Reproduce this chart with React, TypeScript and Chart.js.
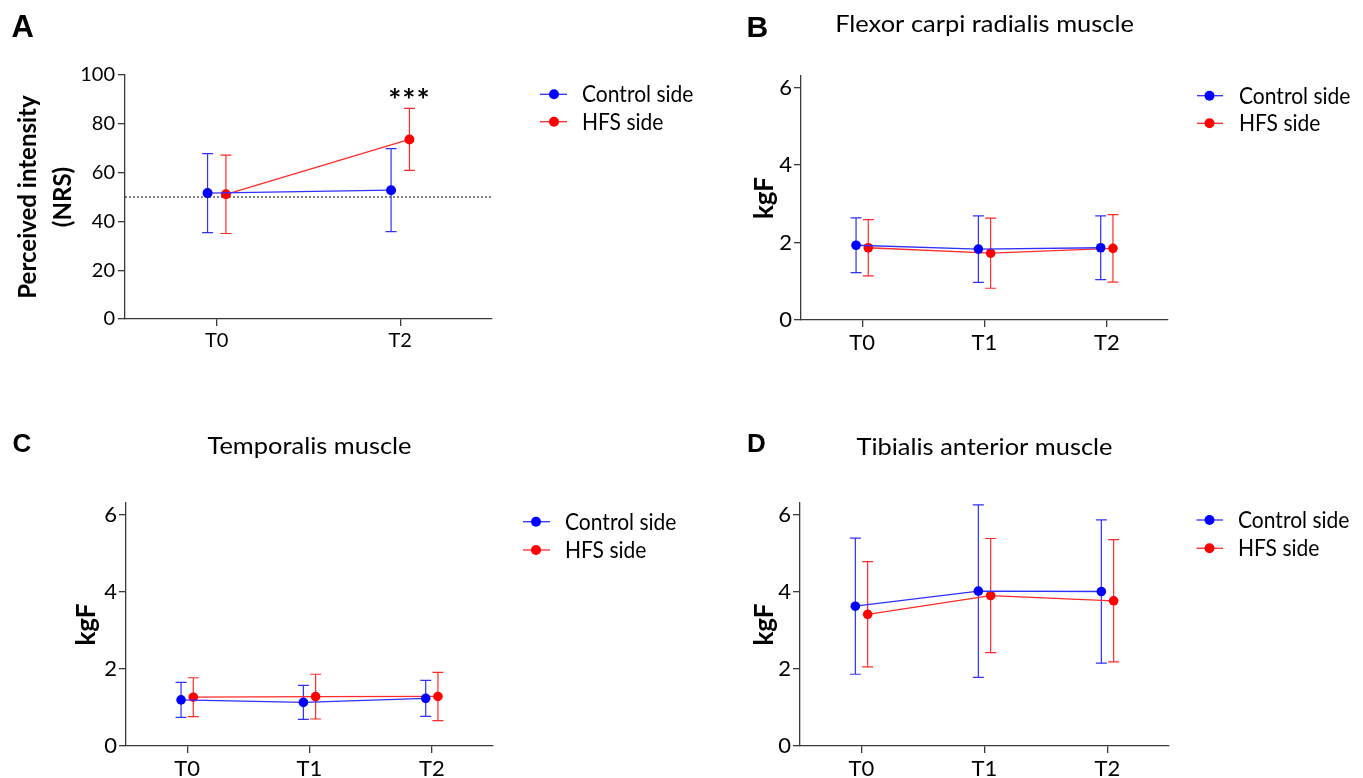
import React, { useEffect, useRef } from 'react';
import { Chart, registerables } from 'chart.js';

Chart.register(...registerables);

// ---------------- data ----------------
const seriesNames = ['Control side', 'HFS side'];

// Panel A: perceived intensity (NRS)
const nrsTimes = ['T0', 'T2'];
const nrsControlMean = [51.6, 52.8];
const nrsControlSD = [16.2, 17.0];
const nrsHfsMean = [51.1, 73.6];
const nrsHfsSD = [16.05, 12.7];
const nrsReferenceLine = 50;
const nrsSignificance = ['', '***'];
const nrsTicks = [0, 20, 40, 60, 80, 100];

// Panel B: flexor carpi radialis muscle (kgF)
const forceTimes = ['T0', 'T1', 'T2'];
const fcrControlMean = [1.93, 1.83, 1.865];
const fcrControlSD = [0.705, 0.86, 0.825];
const fcrHfsMean = [1.865, 1.725, 1.85];
const fcrHfsSD = [0.725, 0.905, 0.87];

// Panel C: temporalis muscle (kgF)
const tempControlMean = [1.195, 1.13, 1.235];
const tempControlSD = [0.455, 0.44, 0.465];
const tempHfsMean = [1.265, 1.28, 1.285];
const tempHfsSD = [0.505, 0.58, 0.625];

// Panel D: tibialis anterior muscle (kgF)
const tibControlMean = [3.625, 4.015, 4.005];
const tibControlSD = [1.765, 2.235, 1.855];
const tibHfsMean = [3.415, 3.9, 3.765];
const tibHfsSD = [1.365, 1.48, 1.585];

const forceTicks = [0, 2, 4, 6];

// ---------------- styles ----------------
const SANS = 'Lato, "Open Sans", "DejaVu Sans", sans-serif';
const LETTER_FONT = '"Liberation Sans", Arial, sans-serif';
const BLUE = '#0000ff';
const BLUE_LINE = '#3030ff';
const RED = '#ff0000';
const RED_LINE = '#ff2b2b';
const AXIS = '#3a3a3a';
const TEXT = '#000000';
const SHIFT = 0.05;
const TITLE_STRETCH = 1.06;
const LEGEND_STRETCH = 0.935;

type Panel = {
  key: string;
  letter: string;
  letterSize: number;
  letterPos: [number, number];
  title?: string;
  titleBaseline?: number;
  categories: string[];
  controlMean: number[];
  controlSD: number[];
  hfsMean: number[];
  hfsSD: number[];
  yMax: number;
  yTicks: number[];
  yTitle: string | string[];
  yTitleSize: number;
  yTitleLineHeight: number;
  yTitleCenter: number;
  reference?: number;
  significance?: string[];
  frame: [number, number, number, number];
  area: [number, number, number, number];
  yAxisW: number;
  tickSize: number;
  tickPadX: number;
  tickPadY: number;
  pointR: number;
  legend: { x1: number; x2: number; dot: number; rows: [number, number]; textX: number; size: number };
};

const panels: Panel[] = [
  {
    key: 'A', letter: 'A', letterSize: 31, letterPos: [11.5, 36.5],
    categories: nrsTimes,
    controlMean: nrsControlMean, controlSD: nrsControlSD,
    hfsMean: nrsHfsMean, hfsSD: nrsHfsSD,
    yMax: 100, yTicks: nrsTicks,
    yTitle: ['Perceived intensity', '(NRS)'], yTitleSize: 24, yTitleLineHeight: 35, yTitleCenter: 28.3,
    reference: nrsReferenceLine, significance: nrsSignificance,
    frame: [0, 0, 720, 389], area: [125, 75, 492, 319], yAxisW: 115,
    tickSize: 20, tickPadX: 3, tickPadY: 3, pointR: 5,
    legend: { x1: 540, x2: 567, dot: 554, rows: [94.3, 121.7], textX: 582, size: 22.5 },
  },
  {
    key: 'B', letter: 'B', letterSize: 30, letterPos: [746.5, 36.5],
    title: 'Flexor carpi radialis muscle', titleBaseline: 31.5,
    categories: forceTimes,
    controlMean: fcrControlMean, controlSD: fcrControlSD,
    hfsMean: fcrHfsMean, hfsSD: fcrHfsSD,
    yMax: 6.3, yTicks: forceTicks,
    yTitle: 'kgF', yTitleSize: 26, yTitleLineHeight: 30, yTitleCenter: 765,
    frame: [681, 0, 682, 389], area: [801, 76, 1168, 320], yAxisW: 60,
    tickSize: 22, tickPadX: 3, tickPadY: 2, pointR: 4.8,
    legend: { x1: 1197, x2: 1223, dot: 1209.5, rows: [95.7, 123.3], textX: 1239, size: 22.5 },
  },
  {
    key: 'C', letter: 'C', letterSize: 26, letterPos: [12.5, 451.7],
    title: 'Temporalis muscle', titleBaseline: 454.3,
    categories: forceTimes,
    controlMean: tempControlMean, controlSD: tempControlSD,
    hfsMean: tempHfsMean, hfsSD: tempHfsSD,
    yMax: 6.3, yTicks: forceTicks,
    yTitle: 'kgF', yTitleSize: 26, yTitleLineHeight: 30, yTitleCenter: 86.7,
    frame: [0, 389, 720, 389], area: [126, 503, 493, 746], yAxisW: 60,
    tickSize: 22, tickPadX: 3, tickPadY: 2, pointR: 4.8,
    legend: { x1: 523, x2: 550, dot: 536, rows: [521.7, 550], textX: 565, size: 22.5 },
  },
  {
    key: 'D', letter: 'D', letterSize: 26, letterPos: [747, 452],
    title: 'Tibialis anterior muscle', titleBaseline: 455,
    categories: forceTimes,
    controlMean: tibControlMean, controlSD: tibControlSD,
    hfsMean: tibHfsMean, hfsSD: tibHfsSD,
    yMax: 6.3, yTicks: forceTicks,
    yTitle: 'kgF', yTitleSize: 26, yTitleLineHeight: 30, yTitleCenter: 765,
    frame: [681, 389, 682, 389], area: [800, 503, 1169, 746], yAxisW: 60,
    tickSize: 22, tickPadX: 3, tickPadY: 2, pointR: 4.8,
    legend: { x1: 1196.5, x2: 1223, dot: 1209.5, rows: [520, 548.3], textX: 1238, size: 22.5 },
  },
];

// ---------------- plugin ----------------
function stretchedText(ctx: CanvasRenderingContext2D, text: string, x: number, y: number, sx: number) {
  ctx.save();
  ctx.translate(x, y);
  ctx.scale(sx, 1);
  ctx.fillText(text, 0, 0);
  ctx.restore();
}

const decorPlugin = {
  id: 'decor',
  beforeDatasetsDraw(chart: any) {
    const ctx = chart.ctx;
    const xs = chart.scales.x;
    const ys = chart.scales.y;
    chart.data.datasets.forEach((ds: any) => {
      if (!ds.errors) return;
      ctx.save();
      ctx.strokeStyle = ds.borderColor;
      ctx.lineWidth = 1.2;
      ds.data.forEach((p: any, i: number) => {
        const sd = ds.errors[i];
        const x = xs.getPixelForValue(p.x);
        const yt = ys.getPixelForValue(p.y + sd);
        const yb = ys.getPixelForValue(p.y - sd);
        ctx.beginPath();
        ctx.moveTo(x, yt);
        ctx.lineTo(x, yb);
        ctx.moveTo(x - 5.5, yt);
        ctx.lineTo(x + 5.5, yt);
        ctx.moveTo(x - 5.5, yb);
        ctx.lineTo(x + 5.5, yb);
        ctx.stroke();
      });
      ctx.restore();
    });
  },
  afterDraw(chart: any, _args: any, opts: any) {
    const p: Panel = opts.panel;
    if (!p) return;
    const ctx = chart.ctx;
    const [fx, fy] = p.frame;
    ctx.save();
    ctx.translate(-fx, -fy);
    ctx.textBaseline = 'alphabetic';
    ctx.fillStyle = '#000';
    // panel letter
    ctx.font = `bold ${p.letterSize}px ${LETTER_FONT}`;
    ctx.textAlign = 'left';
    ctx.fillText(p.letter, p.letterPos[0], p.letterPos[1]);
    // title
    if (p.title) {
      const ca = chart.chartArea;
      ctx.font = `24px ${SANS}`;
      ctx.textAlign = 'center';
      ctx.fillStyle = TEXT;
      stretchedText(ctx, p.title, (ca.left + ca.right) / 2 + fx, p.titleBaseline as number, TITLE_STRETCH);
    }
    // legend
    const lg = p.legend;
    const cols = [
      [BLUE_LINE, BLUE],
      [RED_LINE, RED],
    ];
    chart.data.datasets.slice(0, 2).forEach((ds: any, i: number) => {
      const y = lg.rows[i];
      ctx.strokeStyle = cols[i][0];
      ctx.lineWidth = 1.3;
      ctx.beginPath();
      ctx.moveTo(lg.x1, y);
      ctx.lineTo(lg.x2, y);
      ctx.stroke();
      ctx.fillStyle = cols[i][1];
      ctx.beginPath();
      ctx.arc(lg.dot, y, 5, 0, Math.PI * 2);
      ctx.fill();
      ctx.fillStyle = TEXT;
      ctx.font = `${lg.size}px ${SANS}`;
      ctx.textAlign = 'left';
      stretchedText(ctx, ds.label, lg.textX, y + lg.size * 0.36, LEGEND_STRETCH);
    });
    // significance marks
    if (p.significance) {
      const xs = chart.scales.x;
      const ys = chart.scales.y;
      const hfs = chart.data.datasets[1];
      ctx.font = `bold 31px ${SANS}`;
      ctx.textAlign = 'center';
      ctx.fillStyle = '#000';
      (ctx as any).letterSpacing = '1px';
      p.significance.forEach((s, i) => {
        if (!s) return;
        const pt = hfs.data[i];
        const x = xs.getPixelForValue(pt.x) + fx;
        const y = ys.getPixelForValue(pt.y + hfs.errors[i]) + fy;
        ctx.fillText(s, x, y + 3);
      });
    }
    ctx.restore();
  },
};

function buildConfig(p: Panel): any {
  const n = p.categories.length;
  const pts = (mean: number[], off: number) => mean.map((v, i) => ({ x: i + off, y: v }));
  const datasets: any[] = [
    {
      label: seriesNames[0],
      data: pts(p.controlMean, -SHIFT),
      errors: p.controlSD,
      showLine: true,
      borderColor: BLUE_LINE,
      backgroundColor: BLUE,
      pointBackgroundColor: BLUE,
      pointBorderColor: BLUE,
      pointBorderWidth: 0,
      pointRadius: p.pointR,
      borderWidth: 1.3,
    },
    {
      label: seriesNames[1],
      data: pts(p.hfsMean, SHIFT),
      errors: p.hfsSD,
      showLine: true,
      borderColor: RED_LINE,
      backgroundColor: RED,
      pointBackgroundColor: RED,
      pointBorderColor: RED,
      pointBorderWidth: 0,
      pointRadius: p.pointR,
      borderWidth: 1.3,
    },
  ];
  if (p.reference !== undefined) {
    datasets.push({
      label: 'reference',
      data: [
        { x: -0.5, y: p.reference },
        { x: n - 0.5, y: p.reference },
      ],
      showLine: true,
      borderColor: '#333333',
      borderDash: [2, 2],
      borderWidth: 1.2,
      pointRadius: 0,
      order: 5,
    });
  }
  const [fx, fy, fw, fh] = p.frame;
  const [al, at, ar, ab] = p.area;
  const xAxisH = 30;
  const padding = {
    left: al - fx - p.yAxisW,
    top: at - fy,
    right: fx + fw - ar,
    bottom: fy + fh - ab - xAxisH,
  };
  const titlePadTop = p.yTitleCenter - (al - p.yAxisW) - p.yTitleLineHeight / 2;
  return {
    type: 'scatter',
    data: { datasets },
    options: {
      responsive: false,
      animation: false,
      events: [],
      layout: { padding },
      plugins: {
        legend: { display: false },
        tooltip: { enabled: false },
        decor: { panel: p },
      },
      scales: {
        x: {
          type: 'linear',
          min: -0.5,
          max: n - 0.5,
          afterBuildTicks: (s: any) => {
            s.ticks = p.categories.map((_, i) => ({ value: i }));
          },
          afterFit: (s: any) => {
            s.height = xAxisH;
          },
          ticks: {
            callback: (v: any) => p.categories[v] ?? '',
            font: { family: SANS, size: p.tickSize },
            color: TEXT,
            padding: p.tickPadX,
            autoSkip: false,
            maxRotation: 0,
          },
          grid: { drawOnChartArea: false, drawTicks: true, tickLength: 7, color: AXIS, lineWidth: 1.3 },
          border: { display: true, color: AXIS, width: 1.3 },
        },
        y: {
          type: 'linear',
          min: 0,
          max: p.yMax,
          afterBuildTicks: (s: any) => {
            s.ticks = p.yTicks.map((v) => ({ value: v }));
          },
          afterFit: (s: any) => {
            s.width = p.yAxisW;
          },
          ticks: {
            font: { family: SANS, size: p.tickSize },
            color: TEXT,
            padding: p.tickPadY,
            callback: (v: any) => String(v),
          },
          title: {
            display: true,
            text: p.yTitle,
            color: TEXT,
            font: { family: SANS, size: p.yTitleSize, weight: 'bold', lineHeight: p.yTitleLineHeight / p.yTitleSize },
            padding: { top: titlePadTop, bottom: 0 },
          },
          grid: { drawOnChartArea: false, drawTicks: true, tickLength: 7, color: AXIS, lineWidth: 1.3 },
          border: { display: true, color: AXIS, width: 1.3 },
        },
      },
    },
    plugins: [decorPlugin],
  };
}

function PanelChart({ panel }: { panel: Panel }) {
  const ref = useRef<HTMLCanvasElement | null>(null);
  useEffect(() => {
    if (!ref.current) return;
    const chart = new Chart(ref.current, buildConfig(panel));
    return () => chart.destroy();
  }, [panel]);
  const [x, y, w, h] = panel.frame;
  return (
    <canvas
      ref={ref}
      width={w}
      height={h}
      style={{ position: 'absolute', left: x, top: y, width: w, height: h }}
    />
  );
}

export default function App() {
  return (
    <div style={{ position: 'absolute', left: 0, top: 0, width: 1363, height: 778, background: '#fff', overflow: 'hidden' }}>
      {panels.map((p) => (
        <PanelChart key={p.key} panel={p} />
      ))}
    </div>
  );
}
